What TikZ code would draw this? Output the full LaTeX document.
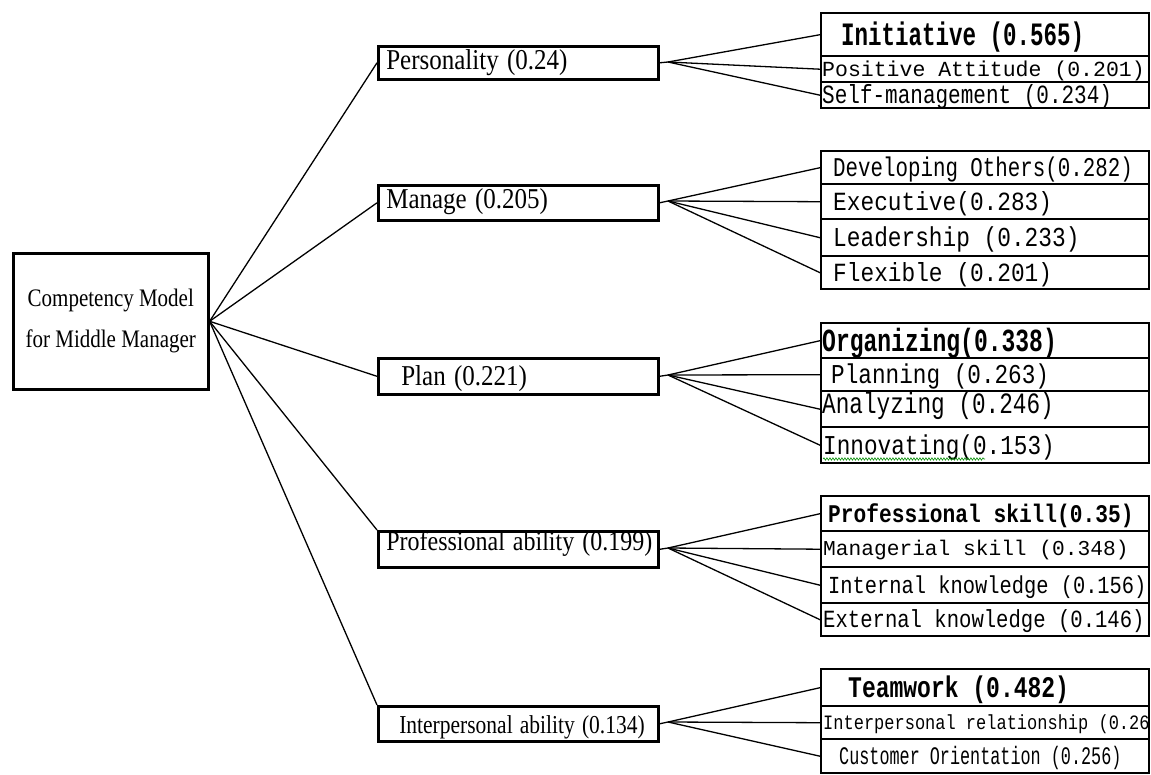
\documentclass[tikz,border=0pt]{standalone}
\usepackage{fontspec}
\setmainfont{Liberation Serif}
\newfontfamily\monofam{Liberation Mono}
\usetikzlibrary{decorations.pathmorphing}
\newcommand\setfs[1]{\fontsize{#1}{#1}\selectfont}
\newcommand\ys[2]{\scalebox{1}[#1]{#2}}
\newcommand\msp{\hspace{0.6em}}
\begin{document}
\begin{tikzpicture}[x=1pt,y=-1pt,
  conn/.style={line width=1.3pt},
  rootbox/.style={draw, line width=2.6pt, minimum width=195pt, minimum height=136pt, anchor=north west, align=center, inner sep=0pt},
  midbox/.style={draw, line width=2.6pt, text width=280pt, inner xsep=0pt, inner ysep=0pt, anchor=north west, align=left, text height=19pt, text depth=0pt},
  rowbox/.style={draw, line width=2.4pt, text width=328pt, inner xsep=0pt, inner ysep=0pt, anchor=north west, align=left, text depth=0pt},
]
\useasboundingbox (0,0) rectangle (1151,774);

% root
\node[rootbox, font=\fontsize{21}{41}\selectfont] (root) at (12,252) {\ys{1.2}{Competency Model}\\\ys{1.2}{for Middle Manager}};

% middle level
\node[midbox, minimum height=33pt, font=\setfs{25}] (m1) at (377,45) {\hspace*{8pt}\raisebox{3pt}{\ys{1.15}{Personality (0.24)}}};
\node[midbox, minimum height=35pt, font=\setfs{25}] (m2) at (377,184) {\hspace*{8pt}\raisebox{4pt}{\ys{1.15}{Manage (0.205)}}};
\node[midbox, minimum height=36pt, font=\setfs{25}] (m3) at (377,357) {\hspace*{23pt}\ys{1.15}{Plan (0.221)}};
\node[midbox, minimum height=36pt, font=\setfs{24}] (m4) at (377,530) {\hspace*{8pt}\raisebox{8pt}{\ys{1.15}{Professional ability (0.199)}}};
\node[midbox, minimum height=35pt, font=\setfs{21.5}] (m5) at (377,705) {\hspace*{21pt}\ys{1.2}{Interpersonal ability (0.134)}};

% group 1
\node[rowbox, minimum height=43pt, text height=21pt, font=\monofam\bfseries\setfs{22.5}] (r11) at (820,12) {\hspace*{20pt}\ys{1.45}{Initiative\msp(0.565)}};
\node[rowbox, minimum height=26pt, text height=14pt, font=\monofam\setfs{21.5}] (r12) at (820,55) {\hspace*{1pt}\ys{1.0}{Positive\msp Attitude\msp(0.201)}};
\node[rowbox, minimum height=26pt, text height=17pt, font=\monofam\setfs{21}] (r13) at (820,81) {\hspace*{1pt}\ys{1.25}{Self-management\msp(0.234)}};

% group 2
\node[rowbox, minimum height=33pt, text height=17.5pt, font=\monofam\setfs{20.8}] (r21) at (820,150) {\hspace*{12pt}\ys{1.3}{Developing\msp Others(0.282)}};
\node[rowbox, minimum height=35pt, text height=17.5pt, font=\monofam\setfs{22.8}] (r22) at (820,183) {\hspace*{12pt}\ys{1.15}{Executive(0.283)}};
\node[rowbox, minimum height=37pt, text height=18pt, font=\monofam\setfs{22.8}] (r23) at (820,218) {\hspace*{12pt}\ys{1.2}{Leadership\msp(0.233)}};
\node[rowbox, minimum height=33pt, text height=17.5pt, font=\monofam\setfs{22.8}] (r24) at (820,255) {\hspace*{12pt}\ys{1.15}{Flexible\msp(0.201)}};

% group 3
\node[rowbox, minimum height=35pt, text height=21pt, font=\monofam\bfseries\setfs{23}] (r31) at (820,322) {\hspace*{1pt}\ys{1.4}{Organizing(0.338)}};
\node[rowbox, minimum height=33pt, text height=18pt, font=\monofam\setfs{22.7}] (r32) at (820,357) {\hspace*{10pt}\ys{1.2}{Planning\msp(0.263)}};
\node[rowbox, minimum height=36pt, text height=19pt, font=\monofam\setfs{22.7}] (r33) at (820,390) {\hspace*{1pt}\raisebox{5pt}{\ys{1.3}{Analyzing\msp(0.246)}}};
\node[rowbox, minimum height=36pt, text height=18pt, font=\monofam\setfs{22.7}] (r34) at (820,426) {\hspace*{2pt}\ys{1.2}{Innovating(0.153)}};
\draw[green!55!black, line width=0.6pt, decorate, decoration={snake, amplitude=1.2pt, segment length=3pt}] (823,459) -- (985,459);

% group 4
\node[rowbox, minimum height=35pt, text height=17pt, font=\monofam\bfseries\setfs{21.2}] (r41) at (820,495) {\hspace*{7pt}\ys{1.2}{Professional\msp skill(0.35)}};
\node[rowbox, minimum height=36pt, text height=13.5pt, font=\monofam\setfs{21.2}] (r42) at (820,530) {\hspace*{2pt}\ys{1.0}{Managerial\msp skill\msp(0.348)}};
\node[rowbox, minimum height=36pt, text height=16.5pt, font=\monofam\setfs{20.4}] (r43) at (820,566) {\hspace*{7pt}\ys{1.2}{Internal\msp knowledge\msp(0.156)}};
\node[rowbox, minimum height=33pt, text height=16.5pt, font=\monofam\setfs{20.6}] (r44) at (820,602) {\hspace*{2pt}\ys{1.2}{External\msp knowledge\msp(0.146)}};

% group 5
\node[rowbox, minimum height=37pt, text height=20pt, font=\monofam\bfseries\setfs{23}] (r51) at (820,668) {\hspace*{27pt}\ys{1.3}{Teamwork\msp(0.482)}};
\node[rowbox, minimum height=33pt, text height=13.5pt, font=\monofam\setfs{17}] (r52) at (820,705) {\hspace*{2pt}\ys{1.2}{Interpersonal\msp relationship\msp(0.26}};
\node[rowbox, minimum height=34pt, text height=16.5pt, font=\monofam\setfs{16.8}] (r53) at (820,738) {\hspace*{18pt}\ys{1.5}{Customer\msp Orientation\msp(0.256)}};

% fan points
\coordinate (f1) at (668,62);
\coordinate (f2) at (668,201);
\coordinate (f3) at (668,375);
\coordinate (f4) at (668,548);
\coordinate (f5) at (668,722);

% root connectors
\draw[conn] (root.east) -- (m1.west);
\draw[conn] (root.east) -- (m2.west);
\draw[conn] (root.east) -- (m3.west);
\draw[conn] (root.east) -- (m4.north west);
\draw[conn] (root.east) -- (m5.north west);

% stubs
\foreach \i in {1,...,5} { \draw[conn] (m\i.east) -- (f\i); }

% fans
\draw[conn] (f1) -- (r11.west);
\draw[conn] (f1) -- (r12.west);
\draw[conn] (f1) -- (r13.west);
\draw[conn] (f2) -- (r21.west);
\draw[conn] (f2) -- (r22.west);
\draw[conn] (f2) -- (r23.west);
\draw[conn] (f2) -- (r24.west);
\draw[conn] (f3) -- (r31.west);
\draw[conn] (f3) -- (r32.west);
\draw[conn] (f3) -- (r33.west);
\draw[conn] (f3) -- (r34.west);
\draw[conn] (f4) -- (r41.west);
\draw[conn] (f4) -- (r42.west);
\draw[conn] (f4) -- (r43.west);
\draw[conn] (f4) -- (r44.west);
\draw[conn] (f5) -- (r51.west);
\draw[conn] (f5) -- (r52.west);
\draw[conn] (f5) -- (r53.west);
\end{tikzpicture}
\end{document}
